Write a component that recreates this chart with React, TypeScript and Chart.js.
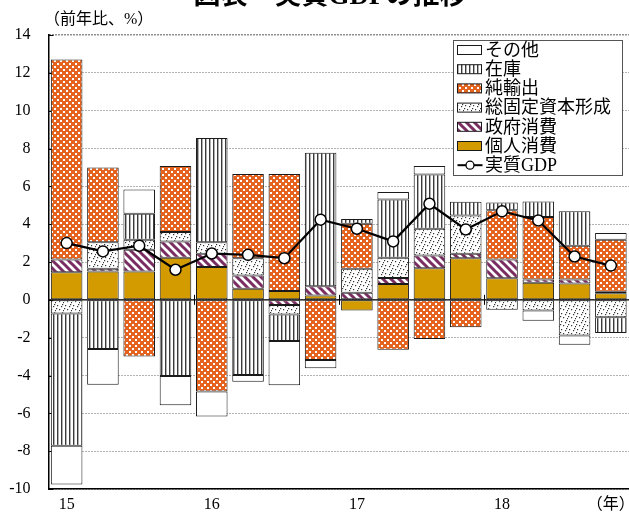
import React, { useEffect, useRef } from 'react';
import { Chart, registerables } from 'chart.js';

Chart.register(...registerables);

// Quarters 2015Q1 .. 2018Q4 (label only on Q1; last slot carries the unit)
const quarterLabels = ['15', '', '', '', '16', '', '', '', '17', '', '', '', '18', '', '', '（年）'];

// Contributions (percentage points, YoY)
const privateConsumption = [1.46, 1.5, 1.5, 2.22, 1.73, 0.58, 0.47, 0.23, -0.57, 0.84, 1.67, 2.2, 1.14, 0.9, 0.86, 0.35];
const governmentConsumption = [0.67, 0.14, 1.15, 0.87, 0.7, 0.7, -0.27, 0.49, 0.37, 0.32, 0.67, 0.23, 0.99, 0.17, 0.21, 0.08];
const fixedCapital = [-0.72, 1.41, 0.52, 0.49, 0.62, 0.92, -0.51, 0, 1.27, 1.06, 1.42, 2.03, -0.53, -0.57, -1.89, -0.92];
const netExports = [10.57, 3.94, -3.0, 3.5, -4.84, 4.45, 6.18, -3.18, 2.38, -2.64, -2.07, -1.45, 2.6, 3.31, 1.79, 2.75];
const inventories = [-6.99, -2.6, 1.38, -4.03, 5.51, -3.98, -1.4, 7.06, 0.25, 3.09, 2.86, 0.73, 0.42, 0.82, 1.82, -0.83];
const others = [-2.05, -1.89, 1.28, -1.54, -1.33, -0.35, -2.33, -0.44, 0, 0.39, 0.46, 0, 0, -0.53, -0.48, 0.35];
const realGDP = [3.0, 2.56, 2.86, 1.59, 2.45, 2.38, 2.2, 4.24, 3.76, 3.09, 5.08, 3.72, 4.68, 4.2, 2.29, 1.81];

const yMin = -10;
const yMax = 14;
const yStep = 2;

const titleText = '図表　実質GDPの推移';
const unitText = '（前年比、%）';

const SERIF = "'Liberation Serif', 'Noto Sans CJK JP', serif";

function tile(w: number, h: number, draw: (c: CanvasRenderingContext2D) => void) {
  const cv = document.createElement('canvas');
  cv.width = w;
  cv.height = h;
  const c = cv.getContext('2d')!;
  draw(c);
  return cv;
}

function makePatterns(ctx: CanvasRenderingContext2D) {
  const gold = '#D39B00';
  const checker = tile(6, 6, (c) => {
    c.fillStyle = '#E4631F';
    c.fillRect(0, 0, 6, 6);
    c.fillStyle = '#ffffff';
    c.fillRect(0, 0, 2, 2);
    c.fillRect(3, 3, 2, 2);
  });
  const vstripe = tile(4, 4, (c) => {
    c.fillStyle = '#ffffff';
    c.fillRect(0, 0, 4, 4);
    c.fillStyle = '#3a3a3a';
    c.fillRect(1, 0, 1.4, 4);
  });
  const dots = tile(8, 8, (c) => {
    c.fillStyle = '#ffffff';
    c.fillRect(0, 0, 8, 8);
    c.fillStyle = '#333333';
    [[1, 1], [5, 2], [3, 5], [7, 6], [0, 4], [6, 0]].forEach(([x, y]) => c.fillRect(x, y, 1.2, 1.2));
  });
  const diag = tile(8, 8, (c) => {
    c.fillStyle = '#ffffff';
    c.fillRect(0, 0, 8, 8);
    c.strokeStyle = '#7A2D60';
    c.lineWidth = 3;
    c.beginPath();
    for (let k = -8; k <= 16; k += 8) {
      c.moveTo(k - 4, -4);
      c.lineTo(k + 12, 12);
    }
    c.stroke();
  });
  return {
    gold,
    checker: ctx.createPattern(checker, 'repeat')!,
    vstripe: ctx.createPattern(vstripe, 'repeat')!,
    dots: ctx.createPattern(dots, 'repeat')!,
    diag: ctx.createPattern(diag, 'repeat')!,
  };
}

export default function App() {
  const ref = useRef<HTMLCanvasElement | null>(null);

  useEffect(() => {
    const canvas = ref.current!;
    const ctx = canvas.getContext('2d')!;
    const p = makePatterns(ctx);

    const barCommon = {
      type: 'bar' as const,
      stack: 'contrib',
      borderColor: '#1a1a1a',
      borderWidth: 1,
      borderSkipped: false as const,
      categoryPercentage: 1,
      barPercentage: 0.87,
      order: 1,
    };

    const datasets: any[] = [
      { ...barCommon, label: '個人消費', data: privateConsumption, backgroundColor: p.gold },
      { ...barCommon, label: '政府消費', data: governmentConsumption, backgroundColor: p.diag },
      { ...barCommon, label: '総固定資本形成', data: fixedCapital, backgroundColor: p.dots },
      { ...barCommon, label: '純輸出', data: netExports, backgroundColor: p.checker },
      { ...barCommon, label: '在庫', data: inventories, backgroundColor: p.vstripe },
      { ...barCommon, label: 'その他', data: others, backgroundColor: '#ffffff' },
      {
        type: 'line',
        label: '実質GDP',
        data: realGDP,
        stack: 'gdp',
        order: 0,
        borderColor: '#000000',
        borderWidth: 2.2,
        pointRadius: 5.5,
        pointBorderWidth: 1.5,
        pointBackgroundColor: '#ffffff',
        pointBorderColor: '#000000',
        tension: 0,
      },
    ];

    const decor = {
      id: 'decor',
      beforeDatasetsDraw(chart: any) {
        const { ctx: c, chartArea: a, scales } = chart;
        const y = scales.y;
        const x = scales.x;
        const y0 = y.getPixelForValue(0);
        c.save();
        c.strokeStyle = '#000';
        c.lineWidth = 1.2;
        c.beginPath();
        c.moveTo(a.left, y0);
        c.lineTo(a.right, y0);
        c.stroke();
        // inner tick marks on the value axis
        c.lineWidth = 1;
        y.ticks.forEach((t: any) => {
          const py = Math.round(y.getPixelForValue(t.value)) + 0.5;
          c.beginPath();
          c.moveTo(a.left, py);
          c.lineTo(a.left + 5, py);
          c.stroke();
        });
        // year boundary marks on the zero line
        quarterLabels.forEach((lab, i) => {
          if (i > 0 && lab !== '' && i < quarterLabels.length - 1) {
            const px = Math.round((x.getPixelForValue(i - 1) + x.getPixelForValue(i)) / 2) + 0.5;
            c.beginPath();
            c.moveTo(px, y0 - 5);
            c.lineTo(px, y0 + 5);
            c.stroke();
          }
        });
        c.restore();
      },
      afterDraw(chart: any) {
        const { ctx: c } = chart;
        c.save();
        // title (mostly above the visible page)
        c.fillStyle = '#000';
        c.font = `bold 27px ${SERIF}`;
        c.textAlign = 'center';
        c.textBaseline = 'alphabetic';
        c.fillText(titleText, 330, 4);
        // unit label
        c.font = `16px ${SERIF}`;
        c.textAlign = 'left';
        c.textBaseline = 'middle';
        c.fillText(unitText, 44, 20);

        // legend
        const bx = 453.5, by = 40.5, bw = 169, bh = 135;
        c.fillStyle = '#ffffff';
        c.fillRect(bx, by, bw, bh);
        c.strokeStyle = '#555';
        c.lineWidth = 1;
        c.strokeRect(bx, by, bw, bh);
        const items = [...chart.data.datasets.filter((d: any) => d.type === 'bar')].reverse()
          .concat(chart.data.datasets.filter((d: any) => d.type === 'line'));
        c.font = `18px ${SERIF}`;
        c.textBaseline = 'middle';
        items.forEach((d: any, i: number) => {
          const cy = 50 + i * 19.2;
          const sx = 457.5;
          if (d.type === 'line') {
            c.strokeStyle = '#000';
            c.lineWidth = 2;
            c.beginPath();
            c.moveTo(sx, cy);
            c.lineTo(sx + 25, cy);
            c.stroke();
            c.beginPath();
            c.arc(sx + 12.5, cy, 4, 0, Math.PI * 2);
            c.fillStyle = '#fff';
            c.fill();
            c.lineWidth = 1.3;
            c.stroke();
          } else {
            c.fillStyle = d.backgroundColor;
            c.fillRect(sx, cy - 4.5, 24, 9);
            c.strokeStyle = '#1a1a1a';
            c.lineWidth = 1;
            c.strokeRect(sx, cy - 4.5, 24, 9);
          }
          c.fillStyle = '#000';
          c.fillText(d.label, 485, cy + 1);
        });
        c.restore();
      },
    };

    const chart = new Chart(ctx, {
      type: 'bar',
      data: { labels: quarterLabels, datasets },
      options: {
        animation: false,
        responsive: false,
        maintainAspectRatio: false,
        layout: { autoPadding: false, padding: { top: 35, left: 0, right: 0, bottom: 0 } },
        plugins: { legend: { display: false }, tooltip: { enabled: false }, title: { display: false } },
        scales: {
          x: {
            stacked: true,
            offset: true,
            grid: { display: false, drawTicks: false },
            border: { display: true, color: '#000', width: 1.5 },
            ticks: {
              autoSkip: false,
              maxRotation: 0,
              minRotation: 0,
              padding: 6,
              color: '#000',
              font: { family: SERIF, size: 16 },
            },
            afterFit: (s: any) => { s.height = 23; s.paddingLeft = 0; s.paddingRight = 0; },
          },
          y: {
            stacked: true,
            min: yMin,
            max: yMax,
            grid: {
              drawTicks: false,
              color: (c: any) => (c.tick && c.tick.value === yMax ? '#222' : '#666'),
              lineWidth: (c: any) => (c.tick && c.tick.value === yMax ? 1.5 : 1),
            },
            border: { display: true, color: '#000', width: 1.5, dash: [1, 2] } as any,
            ticks: {
              stepSize: yStep,
              padding: 18,
              color: '#000',
              font: { family: SERIF, size: 16 },
              callback: (v: any) => String(v),
            },
            afterFit: (s: any) => { s.width = 48.5; s.paddingTop = 0; s.paddingBottom = 0; },
          },
        },
      },
      plugins: [decor],
    });

    return () => chart.destroy();
  }, []);

  return (
    <div style={{ position: 'absolute', left: 0, top: 0, width: 629, height: 512, background: '#fff' }}>
      <canvas ref={ref} width={629} height={512} style={{ display: 'block' }} />
    </div>
  );
}
